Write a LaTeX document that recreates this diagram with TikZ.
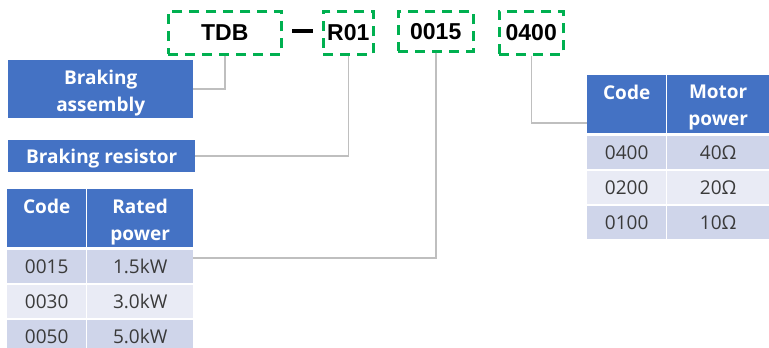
\documentclass[tikz,border=0pt]{standalone}
\usepackage{fontspec}
\setmainfont{Open Sans}
\newfontfamily\codefont{Liberation Sans}
\definecolor{hblue}{HTML}{4472C4}
\definecolor{rowa}{HTML}{CFD5EA}
\definecolor{rowb}{HTML}{E9EBF5}
\definecolor{codegreen}{HTML}{00B050}
\definecolor{linegray}{HTML}{BFBFBF}
\definecolor{txtgray}{HTML}{3A3A3A}
\tikzset{
  codebox/.style={draw=codegreen, line width=2.5pt, dash pattern=on 10pt off 7pt, inner sep=0pt, anchor=north west, font=\codefont\bfseries\fontsize{23}{27}\selectfont},
  bluefill/.style={fill=hblue, inner sep=0pt, anchor=north west},
  whitetext/.style={text=white, inner sep=0pt, align=center, font=\bfseries\fontsize{19}{27}\selectfont},
  cella/.style={fill=rowa, text=txtgray, inner sep=0pt, anchor=north west, align=center, font=\fontsize{19}{24}\selectfont},
  cellb/.style={fill=rowb, text=txtgray, inner sep=0pt, anchor=north west, align=center, font=\fontsize{19}{24}\selectfont},
  conn/.style={draw=linegray, line width=1.5pt}
}
\begin{document}
\begin{tikzpicture}[x=1pt,y=-1pt]
\useasboundingbox (0,0) rectangle (769,348);
\clip (0,0) rectangle (769,348);
% code boxes
\node[codebox, minimum width=113pt, minimum height=43pt] (tdb) at (167,10) {TDB};
\node[fill=black, minimum width=21pt, minimum height=4pt, inner sep=0pt] (hyph) at (302.5,31) {};
\node[codebox, minimum width=50pt, minimum height=43pt] (r01) at (322,10) {R01};
\node[codebox, minimum width=75pt, minimum height=40pt] (c0015) at (397,10) {0015};
\node[codebox, minimum width=64pt, minimum height=43pt] (c0400) at (498,10) {0400};
% left boxes
\node[bluefill, minimum width=185pt, minimum height=58pt] (assembly) at (8,60) {};
\node[whitetext] (assemblyt) at ([yshift=-4pt]assembly.center) {Braking\\assembly};
\node[bluefill, minimum width=187pt, minimum height=32pt] (resistor) at (8,140) {};
\node[whitetext] (resistort) at ([yshift=-2pt]resistor.center) {Braking resistor};
% left table
\node[bluefill, minimum width=79pt, minimum height=58pt] (lhc) at (7,189) {};
\node[whitetext, anchor=north] (lhct) at ([yshift=-10pt]lhc.north) {Code};
\node[bluefill, minimum width=106pt, minimum height=58pt] (lhp) at (87,189) {};
\node[whitetext, anchor=north] (lhpt) at ([yshift=-10pt]lhp.north) {Rated\\power};
\node[cella, minimum width=79pt, minimum height=33pt] (l1c) at (7,250) {0015};
\node[cella, minimum width=106pt, minimum height=33pt] (l1p) at (87,250) {1.5kW};
\node[cellb, minimum width=79pt, minimum height=33pt] (l2c) at (7,285) {0030};
\node[cellb, minimum width=106pt, minimum height=33pt] (l2p) at (87,285) {3.0kW};
\node[cella, minimum width=79pt, minimum height=33pt] (l3c) at (7,320) {0050};
\node[cella, minimum width=106pt, minimum height=33pt] (l3p) at (87,320) {5.0kW};
% right table
\node[bluefill, minimum width=79pt, minimum height=58pt] (rhc) at (587,75) {};
\node[whitetext, anchor=north] (rhct) at ([yshift=-10pt]rhc.north) {Code};
\node[bluefill, minimum width=102pt, minimum height=58pt] (rhp) at (667,75) {};
\node[whitetext, anchor=north] (rhpt) at ([yshift=-10pt]rhp.north) {Motor\\power};
\node[cella, minimum width=79pt, minimum height=33pt] (r1c) at (587,136) {0400};
\node[cella, minimum width=102pt, minimum height=33pt] (r1p) at (667,136) {40Ω};
\node[cellb, minimum width=79pt, minimum height=33pt] (r2c) at (587,171) {0200};
\node[cellb, minimum width=102pt, minimum height=33pt] (r2p) at (667,171) {20Ω};
\node[cella, minimum width=79pt, minimum height=33pt] (r3c) at (587,206) {0100};
\node[cella, minimum width=102pt, minimum height=33pt] (r3p) at (667,206) {10Ω};
% connectors
\coordinate (e15) at (193,258);
\coordinate (e400) at (587,123);
\draw[conn] (tdb.south) |- (assembly.east);
\draw[conn] (r01.south) |- (resistor.east);
\draw[conn] (c0015.south) |- (e15);
\draw[conn] (c0400.south) |- (e400);
\end{tikzpicture}
\end{document}
